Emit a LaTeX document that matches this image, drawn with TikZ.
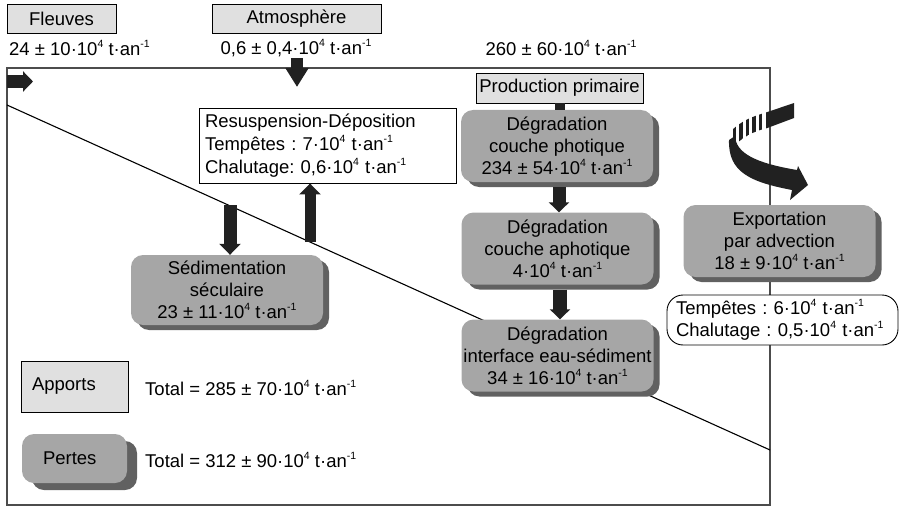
\documentclass[tikz,border=0pt]{standalone}
\usepackage{fontspec}
\setmainfont{Liberation Sans}
\usetikzlibrary{arrows.meta,shadows}
\definecolor{boxgray}{gray}{0.65}
\definecolor{shadowgray}{gray}{0.38}
\definecolor{lightfill}{gray}{0.88}
\definecolor{arrowblack}{gray}{0.13}
\frenchspacing
\newcommand{\sps}[1]{\raisebox{0.42em}{\fontsize{10.5}{10.5}\selectfont #1}}
\newcommand{\uq}{\sps{4} t·an\sps{-1}}
\begin{document}
\begin{tikzpicture}[x=1pt,y=-1pt,
  every node/.style={font=\fontsize{18.5}{22}\selectfont, inner sep=0pt},
  lightbox/.style={draw=black, line width=0.9pt, fill=lightfill},
  grayfill/.style={fill=boxgray, rounded corners=12pt, align=center},
  shadowA/.style={drop shadow={shadow xshift=6pt, shadow yshift=-5pt, fill=shadowgray, opacity=1}},
  shadowB/.style={drop shadow={shadow xshift=10pt, shadow yshift=-7pt, fill=shadowgray, opacity=1}},
  graybox/.style={grayfill, shadowA, minimum width=192pt, minimum height=72pt},
  blockarrow/.style={arrowblack, line width=12pt, -{Triangle[width=21pt,length=11pt]}},
  frameline/.style={draw=black!70, line width=1.2pt},
]
\useasboundingbox (0,0) rectangle (899,508);

% frame and diagonal
\draw[frameline] (7,68) rectangle (770,505);
\coordinate (diagA) at (7,105);
\coordinate (diagB) at (770,450);
\draw[line width=1.1pt] (diagA) -- (diagB);

% top sources
\node[lightbox, minimum width=109pt, minimum height=29pt] (fleuves) at (61.5,18.5) {Fleuves};
\node[lightbox, minimum width=169pt, minimum height=29pt] (atmo) at (296.5,18.5) {Atmosphère};
\node[anchor=west] (fleuvesval) at (9,48) {24 ± 10·10\uq};
\node (atmoval) at (296,48) {0,6 ± 0,4·10\uq};
\node (ppval) at (561,48) {260 ± 60·10\uq};

% resuspension box
\node[draw=black, line width=0.9pt, fill=white, minimum width=257pt, minimum height=75pt,
      text width=245pt, align=left, font=\fontsize{18.5}{23}\selectfont] (resus) at (327.5,145.5)
  {Resuspension-Déposition\\Tempêtes : 7·10\uq\\Chalutage: 0,6·10\uq};

% production primaire
\node[lightbox, minimum width=167pt, minimum height=30pt] (prod) at (559.5,88) {Production primaire};

% gray boxes
\node[graybox] (photique) at (557,146) {Dégradation\\couche photique\\234 ± 54·10\uq};
\node[graybox] (aphotique) at (557.5,248.5) {Dégradation\\couche aphotique\\4·10\uq};
\node[graybox] (interface) at (557.5,355.5) {Dégradation\\interface eau-sédiment\\34 ± 16·10\uq};
\node[graybox, minimum height=70pt] (sedim) at (227,290) {Sédimentation\\séculaire\\23 ± 11·10\uq};
\node[graybox] (export) at (779.5,241) {Exportation\\par advection\\18 ± 9·10\uq};

% export detail
\node[draw=black, line width=0.9pt, fill=white, rounded corners=16pt, minimum width=231pt,
      minimum height=50pt, text width=213pt, align=left] (tempetes) at (782.5,320)
  {Tempêtes : 6·10\uq\\Chalutage : 0,5·10\uq};

% legend
\node[lightbox, minimum width=107pt, minimum height=51pt, text width=85pt, align=left] (apports) at (74.5,386.5) {Apports};
\node[anchor=west] (apportstot) at (145,388) {Total = 285 ± 70·10\uq};
\node[grayfill, shadowB, minimum width=105pt, minimum height=49pt, text width=63pt, align=left] (pertes) at (74.5,458.5) {Pertes};
\node[anchor=west] (pertestot) at (145,460) {Total = 312 ± 90·10\uq};

% block arrows
\coordinate (fleuvesin) at (7,81.5);
\coordinate (fleuvestip) at (33,81.5);
\draw[blockarrow, line width=13pt, -{Triangle[width=20pt,length=10pt]}] (fleuvesin) -- (fleuvestip);
\coordinate (atmoS) at (297,58);
\coordinate (atmoE) at (297,87);
\draw[blockarrow, -{Triangle[width=22pt,length=19pt]}] (atmoS) -- (atmoE);
\coordinate (dep) at (230,205);
\draw[blockarrow, line width=13pt] (dep) -- (dep |- sedim.north);
\coordinate (res) at (310,242);
\draw[blockarrow, line width=11pt] (res) -- (res |- resus.south);
\draw[arrowblack, line width=10pt] (prod.south -| 560,0) -- (photique.north -| 560,0);
\draw[blockarrow, line width=13pt, -{Triangle[width=20pt,length=10pt]}] ([yshift=-5pt]photique.south -| 559,0) -- (aphotique.north -| 559,0);
\draw[blockarrow, line width=14pt, -{Triangle[width=20pt,length=10pt]}] ([yshift=-5pt]aphotique.south -| 560,0) -- (interface.north -| 560,0);

% curved advection arrow
\fill[arrowblack] (766,112.5) -- (794,103) -- (794,118) -- (766,128.5) -- cycle;
\begin{scope}
  \clip (731,131) .. controls (741,121) and (753,116) .. (768,112) -- (768,128) .. controls (753,131) and (741,138) .. (731,149) -- cycle;
  \foreach \xx in {732.5,739,745.5,752,758.5} \fill[arrowblack] (\xx,100) rectangle ++(3.6,60);
\end{scope}
\fill[arrowblack] (735,136) .. controls (736,153) and (755,163) .. (797,170) -- (798,166) -- (808,185) -- (790,200) -- (792,190) .. controls (750,182) and (728,172) .. (729,140) -- cycle;
\end{tikzpicture}
\end{document}
